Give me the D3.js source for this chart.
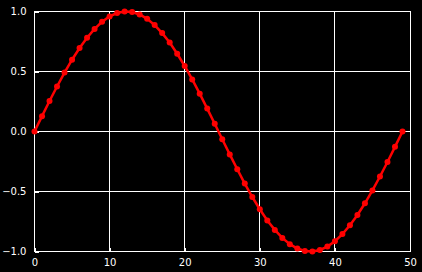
<!DOCTYPE html>
<html>
<head>
<meta charset="UTF-8">
<title>sine</title>
<script src="https://d3js.org/d3.v7.min.js"></script>
<style>
  html, body { margin: 0; padding: 0; background: #000; }
  svg { display: block; }
</style>
</head>
<body>
<script>
// data
var xValues = d3.range(0, 50);
var yValues = [
  0.000, 0.128, 0.254, 0.375, 0.491, 0.598, 0.696, 0.782, 0.855, 0.914,
  0.959, 0.987, 0.999, 0.995, 0.975, 0.939, 0.887, 0.820, 0.741, 0.648,
  0.546, 0.434, 0.315, 0.191, 0.064, -0.064, -0.191, -0.315, -0.434, -0.546,
  -0.648, -0.741, -0.820, -0.887, -0.939, -0.975, -0.995, -0.999, -0.987, -0.959,
  -0.914, -0.855, -0.782, -0.696, -0.598, -0.491, -0.375, -0.254, -0.128, 0.000
];
var xTicks = [0, 10, 20, 30, 40, 50];
var yTicks = [-1.0, -0.5, 0.0, 0.5, 1.0];

var data = xValues.map((x, i) => ({ x: x, y: yValues[i] }));

var width = 422, height = 272;
var margin = { left: 34.5, right: 12, top: 11.5, bottom: 20.5 };

var svg = d3.select("body").append("svg")
  .attr("width", width)
  .attr("height", height)
  .style("background", "#000");

var x = d3.scaleLinear().domain([0, 50]).range([margin.left, width - margin.right]);
var y = d3.scaleLinear().domain([-1, 1]).range([height - margin.bottom, margin.top]);

var minus = s => s.replace("-", "\u2212");

// grid
var grid = svg.append("g").attr("shape-rendering", "crispEdges");
grid.selectAll(".vx").data(xTicks).enter().append("line")
  .attr("x1", d => x(d)).attr("x2", d => x(d))
  .attr("y1", y(-1)).attr("y2", y(1))
  .attr("stroke", "#fff").attr("stroke-width", 1);
grid.selectAll(".hy").data(yTicks).enter().append("line")
  .attr("y1", d => y(d)).attr("y2", d => y(d))
  .attr("x1", x(0)).attr("x2", x(50))
  .attr("stroke", "#fff").attr("stroke-width", 1);

// axes (inward ticks, classic style)
var xAxis = d3.axisBottom(x).tickValues(xTicks).tickFormat(d3.format("d")).tickSizeInner(-4).tickSizeOuter(0).tickPadding(7);
var yAxis = d3.axisLeft(y).tickValues(yTicks).tickFormat(d => minus(d3.format(".1f")(d))).tickSizeInner(-4).tickSizeOuter(0).tickPadding(8);

var gx = svg.append("g").attr("transform", `translate(0,${y(-1)})`).call(xAxis);
var gy = svg.append("g").attr("transform", `translate(${x(0)},0)`).call(yAxis);
[gx, gy].forEach(g => {
  g.select(".domain").remove();
  g.selectAll("line").attr("stroke", "#fff").attr("shape-rendering", "crispEdges");
  g.selectAll("text").attr("fill", "#fff")
    .style("font-family", "DejaVu Sans").style("font-size", "10px");
});

// frame
svg.append("rect")
  .attr("x", x(0)).attr("y", y(1))
  .attr("width", x(50) - x(0)).attr("height", y(-1) - y(1))
  .attr("fill", "none").attr("stroke", "#fff").attr("stroke-width", 1)
  .attr("shape-rendering", "crispEdges");

// series
var line = d3.line().x(d => x(d.x)).y(d => y(d.y));
svg.append("path").datum(data)
  .attr("d", line)
  .attr("fill", "none")
  .attr("stroke", "#ff0000")
  .attr("stroke-width", 2.5);

svg.append("g").selectAll("circle").data(data).enter().append("circle")
  .attr("cx", d => x(d.x))
  .attr("cy", d => y(d.y))
  .attr("r", 3)
  .attr("fill", "#ff0000");
</script>
</body>
</html>
